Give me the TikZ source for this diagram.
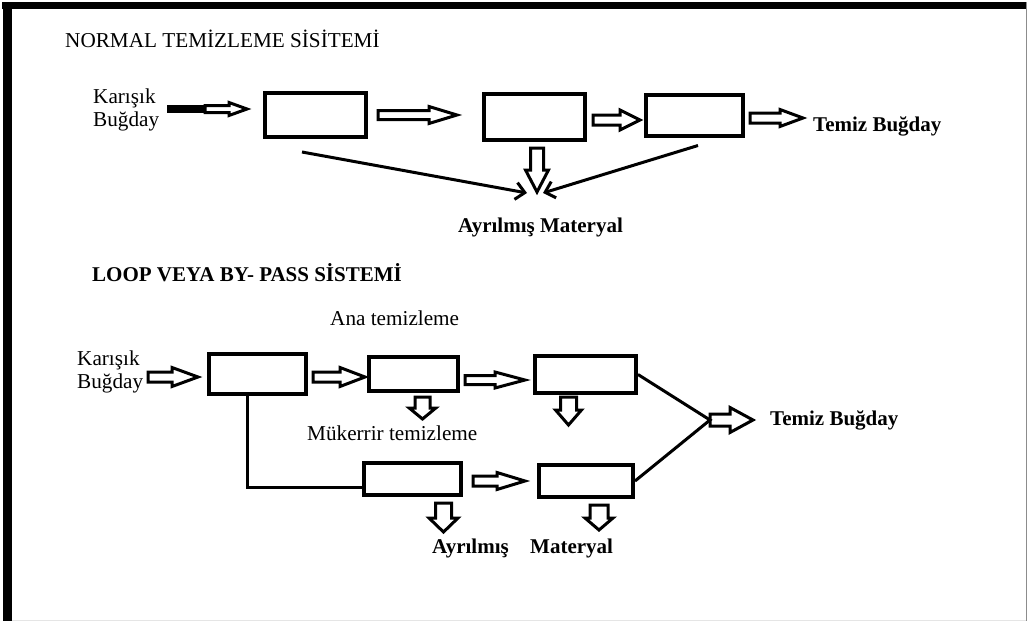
\documentclass[tikz,border=0pt]{standalone}
\usepackage{fontspec}
\setmainfont{Liberation Serif}
\usetikzlibrary{calc,arrows.meta}
\newcommand\harr[5]{%
  \draw[blk] #1 ++(0,{-#3}) -- ++({#2-#5},0) -- ++(0,{#3-#4}) -- ++(#5,#4) -- ++({-#5},#4) -- ++(0,{#3-#4}) -- ++({-#2+#5},0) -- cycle;}
\newcommand\varr[5]{%
  \draw[blk] #1 ++({-#3},0) -- ++(0,{#2-#5}) -- ++({#3-#4},0) -- ++(#4,#5) -- ++(#4,{-#5}) -- ++({#3-#4},0) -- ++(0,{-#2+#5}) -- cycle;}
\begin{document}
\begin{tikzpicture}[x=1pt,y=-1pt,
  box/.style={draw,line width=4pt,inner sep=0pt},
  blk/.style={draw,line width=3pt,fill=white,line join=miter},
  ln/.style={line width=3pt},
  txt/.style={anchor=base west,inner sep=0pt,font=\fontsize{21.2}{24}\selectfont},
  btxt/.style={txt,font=\fontsize{21}{24}\selectfont\bfseries}]
\useasboundingbox (0,0) rectangle (1028,621);
\fill[white] (0,0) rectangle (1028,621);
% frame
\fill[black] (2,2) rectangle (1026,9);
\fill[black] (3,2) rectangle (12,621);
\draw[black!45,line width=1.5pt] (1026.3,2) -- (1026.3,621);
\draw[black!10,line width=1pt] (12,620) -- (1026,620);

% ---------- top system ----------
\node[txt] (t1) at (65,47) {NORMAL TEMİZLEME SİSİTEMİ};
\node[txt] (k1) at (93,103) {Karışık};
\node[txt] (k2) at (93,126) {Buğday};

\node[box,minimum width=101pt,minimum height=44pt] (b1) at (315.5,115) {};
\node[box,minimum width=101pt,minimum height=46pt] (b2) at (534.5,117) {};
\node[box,minimum width=97pt,minimum height=41pt] (b3) at (694.5,115.5) {};

\fill[black] (167,105) rectangle (207,113);
\harr{(205,109)}{42}{3.5}{6.5}{18}
\harr{(378,115)}{79}{4.5}{8.5}{28}
\harr{(593,120)}{47}{5}{10}{20}
\harr{(750,118)}{53}{5}{8.5}{23}
\varr{(537,148)}{44}{6.5}{11.5}{22}

\node[btxt] (tb1) at (813,131) {Temiz Buğday};
\node[btxt] (am) at (458,232) {Ayrılmış Materyal};

\coordinate (amL) at (527,193);
\coordinate (amR) at (543,193);
\draw[ln,-{Straight Barb[length=9pt,width=17pt]}] ($(b1.south)+(-13.5,13)$) -- (amL);
\draw[ln,-{Straight Barb[length=9pt,width=17pt]}] ($(b3.south)+(3.5,7.5)$) -- (amR);

% ---------- loop / by-pass system ----------
\node[btxt] (t2) at (92,281) {LOOP VEYA BY- PASS SİSTEMİ};
\node[txt] (ana) at (330,325) {Ana temizleme};
\node[txt] (k3) at (77,365) {Karışık};
\node[txt] (k4) at (77,388) {Buğday};
\node[txt] (muk) at (307,440) {Mükerrir temizleme};

\node[box,minimum width=97pt,minimum height=40pt] (A) at (257.5,374) {};
\node[box,minimum width=89pt,minimum height=34pt] (B) at (413.5,374) {};
\node[box,minimum width=101pt,minimum height=37pt] (C) at (585.5,374.5) {};
\node[box,minimum width=97pt,minimum height=32pt] (D) at (412.5,479) {};
\node[box,minimum width=94pt,minimum height=32pt] (E) at (586,481) {};

\harr{(148,377)}{50}{5}{9.5}{26}
\harr{(313,377)}{52}{5}{9.5}{25}
\harr{(465,380)}{60}{4.5}{8}{30}
\harr{(473,481)}{52}{5}{8.5}{28}
\harr{(710,420)}{43}{6}{12.5}{23}
\varr{(422.5,397)}{22}{7.5}{13.3}{11}
\varr{(568.5,397)}{28}{8}{13}{15}
\varr{(443.5,503)}{29}{8}{14.5}{14}
\varr{(599,505)}{25}{9}{14}{12}

\coordinate (j) at (710,420);
\draw[ln] (C.east) -- (j) -- (E.east);
\coordinate (lx) at (247,487);
\draw[ln] (A.south -| lx) -- (lx) -- (D.west |- lx);

\node[btxt] (tb2) at (770,425) {Temiz Buğday};
\node[btxt] (ay) at (432,553) {Ayrılmış};
\node[btxt] (ma) at (530,553) {Materyal};
\end{tikzpicture}
\end{document}
